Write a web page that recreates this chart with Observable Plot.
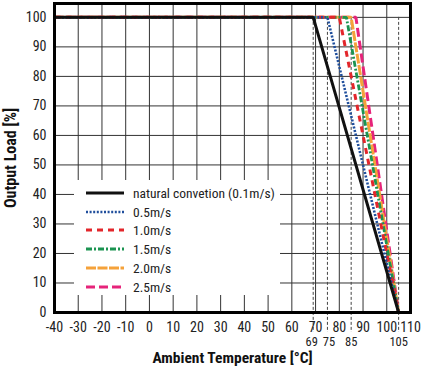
<!DOCTYPE html>
<html>
<head>
<meta charset="utf-8">
<script src="https://cdn.jsdelivr.net/npm/d3@7"></script>
<script src="https://cdn.jsdelivr.net/npm/@observablehq/plot@0.6"></script>
<style>
  html, body { margin: 0; padding: 0; background: #fff; }
  #wrap { position: relative; width: 422px; height: 366px; font-family: "Liberation Sans Narrow", "Roboto Condensed", "DejaVu Sans Condensed", Arial, sans-serif; }
  #legend { position: absolute; left: 74px; top: 180px; width: 206px; height: 115px; background: #fff; }
  #legend .row { position: absolute; left: 0; height: 18px; display: flex; align-items: center; }
  #legend .row span { font-size: 13.5px; color: #222; margin-left: 9px; }
</style>
</head>
<body>
<div id="wrap"></div>
<script>
const seriesNames = ["natural convetion (0.1m/s)", "0.5m/s", "1.0m/s", "1.5m/s", "2.0m/s", "2.5m/s"];
const kneeTemps = [69, 75, 80, 83, 85, 87];
const startTemp = -40;
const endTemp = 105;
const fullLoad = 100;
const zeroLoad = 0;
const xTicks = [-40, -30, -20, -10, 0, 10, 20, 30, 40, 50, 60, 70, 80, 90, 100, 110];
const yTicks = [0, 10, 20, 30, 40, 50, 60, 70, 80, 90, 100];
const markerTemps = [69, 75, 85, 105];

const colors = ["#111111", "#1f4e9c", "#e3262b", "#1b9451", "#f5a23a", "#e6247a"];
const dashes = ["none", "2,1.6", "6,5", "6,2,2,2", "10,1.5", "9,4"];
const widths = [3, 2.6, 3, 2.8, 3, 3];

const rows = [];
seriesNames.forEach((name, i) => {
  rows.push({series: name, t: startTemp, load: fullLoad, i});
  rows.push({series: name, t: kneeTemps[i], load: fullLoad, i});
  rows.push({series: name, t: endTemp, load: zeroLoad, i});
});

const font = '"Liberation Sans Narrow", "Roboto Condensed", "DejaVu Sans Condensed", Arial, sans-serif';
const fmt = d => String(d);

const lineMarks = [];
for (let i = seriesNames.length - 1; i >= 0; i--) {
  lineMarks.push(Plot.line(rows.filter(d => d.i === i), {
    x: "t", y: "load",
    stroke: colors[i], strokeWidth: widths[i], strokeDasharray: dashes[i],
    strokeLinecap: "butt", strokeLinejoin: "miter"
  }));
}

const markerAxis = (vals, dx) => Plot.axisX(vals, {tickSize: 0, tickPadding: 24.5, label: null, fontSize: 12.5, fill: "#222", tickFormat: fmt, dx});

const chart = Plot.plot({
  width: 422,
  height: 366,
  marginLeft: 54,
  marginRight: 12,
  marginTop: 3,
  marginBottom: 54,
  style: {fontFamily: font, fontSize: "14px", color: "#222", background: "#fff"},
  x: {domain: [-40, 110], ticks: xTicks},
  y: {domain: [0, 104.7], ticks: yTicks},
  marks: [
    Plot.gridX(xTicks, {stroke: "#333", strokeOpacity: 1, strokeWidth: 1}),
    Plot.gridY(yTicks, {stroke: "#333", strokeOpacity: 1, strokeWidth: 1}),
    Plot.ruleX(markerTemps, {y1: fullLoad, y2: zeroLoad, stroke: "#444", strokeWidth: 1, strokeDasharray: "3,2", insetBottom: -20, clip: false}),
    ...lineMarks,
    Plot.axisX(xTicks, {tickSize: 0, tickPadding: 9.5, label: null, fontSize: 14, fill: "#222", tickFormat: fmt}),
    markerAxis(markerTemps.slice(0, 1), -1.5),
    markerAxis(markerTemps.slice(1, 2), 1.5),
    markerAxis(markerTemps.slice(2), 0),
    Plot.axisY(yTicks, {tickSize: 0, tickPadding: 8, label: null, fontSize: 14, fill: "#222", tickFormat: fmt}),
    Plot.text(["Ambient Temperature [°C]"], {frameAnchor: "bottom", textAnchor: "middle", dy: 50, fontWeight: "bold", fontSize: 15.5, fill: "#111"}),
    Plot.text(["Output Load [%]"], {frameAnchor: "left", textAnchor: "middle", dx: -44, rotate: -90, fontWeight: "bold", fontSize: 16, fill: "#111"}),
    Plot.frame({stroke: "#000", strokeWidth: 3})
  ]
});

const wrap = document.getElementById("wrap");
wrap.appendChild(chart);

const legend = document.createElement("div");
legend.id = "legend";
const rowTops = [13, 32, 50, 69, 88, 107];
seriesNames.forEach((name, i) => {
  const row = document.createElement("div");
  row.className = "row";
  row.style.top = (rowTops[i] - 9) + "px";
  const svg = d3.create("svg").attr("width", 50).attr("height", 18);
  svg.append("line").attr("x1", 12).attr("x2", 50).attr("y1", 9).attr("y2", 9)
    .attr("stroke", colors[i]).attr("stroke-width", widths[i])
    .attr("stroke-dasharray", dashes[i]);
  row.appendChild(svg.node());
  const span = document.createElement("span");
  span.textContent = name;
  row.appendChild(span);
  legend.appendChild(row);
});
wrap.appendChild(legend);
</script>
</body>
</html>
